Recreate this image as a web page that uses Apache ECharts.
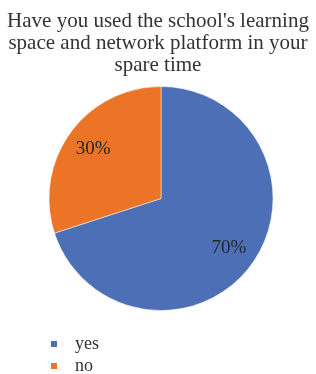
<!DOCTYPE html>
<html>
<head>
<meta charset="utf-8">
<style>
  html, body { margin: 0; padding: 0; background: #fff; }
  #chart { width: 316px; height: 374px; }
</style>
<script src="https://cdn.jsdelivr.net/npm/echarts@6/dist/echarts.min.js"></script>
</head>
<body>
<div id="chart"></div>
<script>
// answers and their shares (%)
var categories = ['yes', 'no']
var values = [70, 30]
var colors = ['#4d6fb6', '#ec7426']

var chart = echarts.init(document.getElementById('chart'))

var pieData = categories.map(function (name, i) {
  return { name: name, value: values[i], itemStyle: { color: colors[i] } }
})

chart.setOption({
  animation: false,
  title: {
    text: "Have you used the school's learning\nspace and network platform in your\nspare time",
    left: 'center',
    top: 5,
    textStyle: {
      fontFamily: 'Liberation Serif',
      fontWeight: 'normal',
      fontSize: 21,
      lineHeight: 22,
      color: '#333'
    }
  },
  legend: {
    orient: 'vertical',
    left: 49,
    top: 335,
    height: 60,
    padding: 0,
    icon: 'rect',
    itemWidth: 8,
    itemHeight: 8,
    itemGap: 4,
    data: categories,
    textStyle: {
      fontFamily: 'Liberation Serif',
      fontSize: 18,
      color: '#333',
      padding: [0, 0, 0, 12]
    }
  },
  series: [
    {
      // the pie itself
      type: 'pie',
      center: [161, 198.5],
      radius: [0, 112],
      startAngle: 90,
      clockwise: true,
      silent: true,
      label: { show: false },
      labelLine: { show: false },
      itemStyle: { borderColor: '#fff', borderWidth: 0.5 },
      data: pieData
    },
    {
      // transparent ring just to place labels further out
      type: 'pie',
      center: [161, 198.5],
      radius: [50, 112],
      startAngle: 90,
      clockwise: true,
      silent: true,
      itemStyle: { color: 'transparent' },
      label: {
        position: 'inside',
        formatter: '{c}%',
        fontFamily: 'Liberation Serif',
        fontSize: 19,
        color: '#262626'
      },
      labelLine: { show: false },
      data: categories.map(function (name, i) {
        return { name: name, value: values[i] }
      })
    }
  ]
})
</script>
</body>
</html>
